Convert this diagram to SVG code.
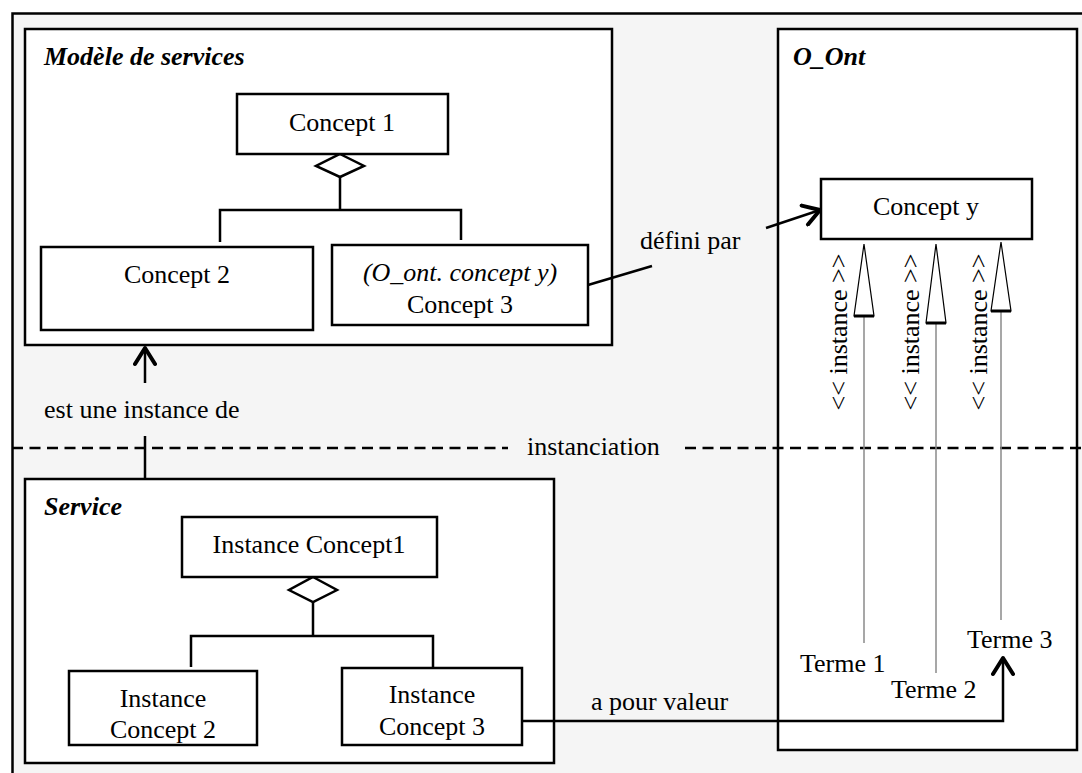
<svg xmlns="http://www.w3.org/2000/svg" width="1082" height="773" viewBox="0 0 1082 773">
<style>
.box{fill:#fff;stroke:#000;stroke-width:2.5}
.t{font-family:"Liberation Serif","Times New Roman",serif;font-size:26px;fill:#000}
.m{text-anchor:middle}
.it{font-style:italic}
.title{font-weight:bold;font-style:italic}
.ln{stroke:#000;stroke-width:2.5;fill:none}
.dash{stroke:#000;stroke-width:2.5;fill:none;stroke-dasharray:11 6.5}
.dia{fill:#fff;stroke:#000;stroke-width:2.5}
.inst{stroke:#8a8a8a;stroke-width:1.5;fill:none}
.tri{fill:#fff;stroke:#000;stroke-width:1.2}
.base{stroke:#000;stroke-width:3}
</style>
<defs>
<marker id="chev" viewBox="0 0 22 24" refX="19" refY="12" markerWidth="22" markerHeight="24" markerUnits="userSpaceOnUse" orient="auto">
<path d="M3,2 L19,12 L3,22" fill="none" stroke="#000" stroke-width="4" stroke-linecap="round" stroke-linejoin="round"/>
</marker>
</defs>
<rect x="0" y="0" width="1082" height="773" fill="#fff"/>
<rect id="background" x="12.5" y="13.5" width="1100" height="800" fill="#f5f5f5" stroke="#000" stroke-width="2.5"/>

<g id="modele">
<rect class="box" x="25" y="29" width="587" height="316"/>
<text class="t title" x="44" y="65">Modèle de services</text>
</g>
<g id="o_ont">
<rect class="box" x="778" y="29" width="299" height="721"/>
<text class="t title" x="793" y="65">O_Ont</text>
</g>
<g id="service">
<rect class="box" x="25" y="479" width="529" height="284"/>
<text class="t title" x="44" y="515">Service</text>
</g>

<g id="connectors">
<polygon class="dia" points="340,154 364,166 340,177 316,166"/>
<path class="ln" d="M340,177 V210 M220,242 V210 H461 V240"/>
<polygon class="dia" points="313,577 337,590 313,602 289,590"/>
<path class="ln" d="M313,602 V636 M191,667 V636 H433 V667"/>
<path class="ln" d="M145,383 V348" marker-end="url(#chev)"/>
<path class="ln" d="M145,436 V479"/>
<path class="ln" d="M588,285 L652,266"/>
<path class="ln" d="M766,228 L820,210" marker-end="url(#chev)"/>
<path class="ln" d="M522,721 H1003 V658" marker-end="url(#chev)"/>
<path class="dash" d="M12,448 H508 M685,448 H1082"/>
<path class="inst" d="M864,316 V643 M936,323 V673 M1001,311 V620"/>
<polygon class="tri" points="864,244 874,316 854,316"/>
<path class="base" d="M854,316 H874"/>
<polygon class="tri" points="936,244 946,323 926,323"/>
<path class="base" d="M926,323 H946"/>
<polygon class="tri" points="1001,242 1011,311 991,311"/>
<path class="base" d="M991,311 H1011"/>
</g>

<g id="concept1">
<rect class="box" x="237" y="94" width="211" height="60"/>
<text class="t m" x="342" y="131">Concept 1</text>
</g>
<g id="concept2">
<rect class="box" x="41" y="247" width="272" height="83"/>
<text class="t m" x="177" y="283">Concept 2</text>
</g>
<g id="concept3">
<rect class="box" x="332" y="245" width="256" height="80"/>
<text class="t m it" x="460" y="281">(O_ont. concept y)</text>
<text class="t m" x="460" y="313">Concept 3</text>
</g>
<g id="concepty">
<rect class="box" x="821" y="179" width="211" height="60"/>
<text class="t m" x="926" y="215">Concept y</text>
</g>
<g id="instconcept1">
<rect class="box" x="182" y="517" width="255" height="60"/>
<text class="t m" x="309" y="553">Instance Concept1</text>
</g>
<g id="instconcept2">
<rect class="box" x="69" y="671" width="188" height="74"/>
<text class="t m" x="163" y="707">Instance</text>
<text class="t m" x="163" y="738">Concept 2</text>
</g>
<g id="instconcept3">
<rect class="box" x="342" y="668" width="180" height="77"/>
<text class="t m" x="432" y="703">Instance</text>
<text class="t m" x="432" y="735">Concept 3</text>
</g>
<g id="terme1"><text class="t" x="800" y="672">Terme 1</text></g>
<g id="terme2"><text class="t" x="891" y="698">Terme 2</text></g>
<g id="terme3"><text class="t" x="967" y="648">Terme 3</text></g>

<g id="labels">
<text class="t" x="44" y="418">est une instance de</text>
<text class="t" x="527" y="455">instanciation</text>
<text class="t" x="640" y="249">défini par</text>
<text class="t" x="591" y="710">a pour valeur</text>
<text class="t m" transform="translate(847,332) rotate(-90)">&lt;&lt; instance &gt;&gt;</text>
<text class="t m" transform="translate(919,332) rotate(-90)">&lt;&lt; instance &gt;&gt;</text>
<text class="t m" transform="translate(987,332) rotate(-90)">&lt;&lt; instance &gt;&gt;</text>
</g>
</svg>
